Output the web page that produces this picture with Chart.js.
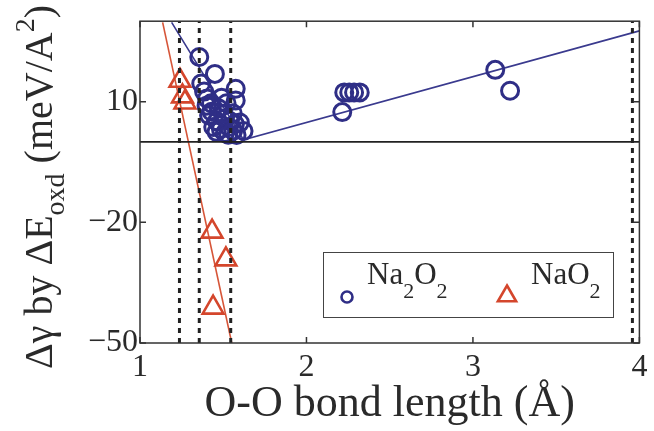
<!DOCTYPE html>
<html>
<head>
<meta charset="utf-8">
<script src="https://cdn.jsdelivr.net/npm/chart.js@4.4.1/dist/chart.umd.min.js"></script>
<style>
  html, body { margin: 0; padding: 0; background: #fff; }
  #wrap { width: 654px; height: 431px; }
</style>
</head>
<body>
<div id="wrap"><canvas id="chart" width="654" height="431"></canvas></div>
<script>
const X_TICKS = [1, 2, 3, 4];
const Y_TICKS = [-50, -20, 10];
const X_RANGE = [1, 4];
const Y_RANGE = [-50, 30];

// Na2O2 structures (circles)
const na2o2X = [1.356, 1.45, 1.368, 1.385, 1.575, 1.575, 1.403, 1.427, 1.474, 1.52, 1.415, 1.462, 1.51, 1.557,
    1.44, 1.486, 1.533, 1.57, 1.622, 1.51, 1.58, 1.43, 1.50, 1.54, 1.46, 1.53, 1.40, 1.49, 1.56, 1.60,
    2.215, 2.227, 2.257, 2.286, 2.32, 3.134, 3.223];
const na2o2Y = [21.1, 16.9, 14.5, 12.5, 13.2, 10.3, 10.8, 9.6, 8.3, 9.6, 6.6, 5.1, 5.9, 7.1,
    3.7, 3.2, 3.7, 4.4, 2.7, 2.2, 1.7, 7.5, 7.0, 5.2, 2.5, 1.8, 9.0, 11.0, 2.8, 4.8,
    7.4, 12.3, 12.3, 12.3, 12.3, 17.9, 12.7];

// NaO2 structures (triangles)
const nao2X = [1.24, 1.255, 1.27, 1.433, 1.516, 1.439];
const nao2Y = [15.2, 11.3, 9.8, -22.3, -29.2, -41.2];

// fitted lines
const na2o2FitX = [1.19, 1.622, 4.0];
const na2o2FitY = [29.7, 0.5, 27.6];
const nao2FitX = [1.136, 1.551];
const nao2FitY = [29.7, -50];

// reference bond lengths (dashed) and zero line
const dashedX = [1.237, 1.356, 1.545, 3.958];
const zeroY = 0;

const BLUE = '#2f2e86';
const RED = '#d4462c';
const FONT = '"Liberation Serif", "Times New Roman", serif';

const Y_TITLE = [
    { text: 'Δγ by ΔE', size: 40, dy: 0 },
    { text: 'oxd', size: 28, dy: 12 },
    { text: ' (meV/A', size: 40, dy: 0 },
    { text: '2', size: 28, dy: -18 },
    { text: ')', size: 40, dy: 0 },
];

const toPoints = (xs, ys) => xs.map((x, i) => ({ x, y: ys[i] }));

const datasets = [
    {
        label: 'Na2O2',
        data: toPoints(na2o2X, na2o2Y),
        borderColor: BLUE,
        backgroundColor: 'rgba(0,0,0,0)',
        pointStyle: 'circle',
        pointRadius: 8.5,
        pointBorderWidth: 3,
        order: 3,
    },
    {
        label: 'NaO2',
        data: toPoints(nao2X, nao2Y),
        borderColor: RED,
        backgroundColor: 'rgba(0,0,0,0)',
        pointStyle: 'triangle',
        pointRadius: 12,
        pointBorderWidth: 2.6,
        order: 3,
    },
    {
        type: 'line',
        data: toPoints(na2o2FitX, na2o2FitY),
        borderColor: '#3a3a8e',
        borderWidth: 1.6,
        pointRadius: 0,
        order: 4,
    },
    {
        type: 'line',
        data: toPoints(nao2FitX, nao2FitY),
        borderColor: '#d65538',
        borderWidth: 1.6,
        pointRadius: 0,
        order: 4,
    },
    {
        type: 'line',
        data: X_RANGE.map((x) => ({ x, y: zeroY })),
        borderColor: '#222',
        borderWidth: 1.6,
        pointRadius: 0,
        order: 2,
    },
];

dashedX.forEach((x) => {
    datasets.push({
        type: 'line',
        data: Y_RANGE.map((y) => ({ x, y })),
        borderColor: '#222',
        borderWidth: 3,
        borderDash: [5, 5],
        pointRadius: 0,
        order: 1,
    });
});

const framePlugin = {
    id: 'frame',
    afterDatasetsDraw(chart) {
        const { ctx, chartArea: a, scales: { x, y } } = chart;
        ctx.save();
        ctx.strokeStyle = '#333';
        ctx.lineWidth = 1.5;
        ctx.strokeRect(a.left, a.top, a.right - a.left, a.bottom - a.top);
        ctx.beginPath();
        X_TICKS.forEach((v) => {
            const px = x.getPixelForValue(v);
            ctx.moveTo(px, a.bottom); ctx.lineTo(px, a.bottom - 6);
            ctx.moveTo(px, a.top); ctx.lineTo(px, a.top + 6);
        });
        Y_TICKS.forEach((v) => {
            const py = y.getPixelForValue(v);
            ctx.moveTo(a.left, py); ctx.lineTo(a.left + 6, py);
            ctx.moveTo(a.right, py); ctx.lineTo(a.right - 6, py);
        });
        ctx.stroke();
        ctx.restore();
    },
};

function drawParts(ctx, parts, x, y) {
    let cx = x;
    parts.forEach((p) => {
        ctx.font = `${p.size}px ${FONT}`;
        ctx.fillText(p.text, cx, y + p.dy);
        cx += ctx.measureText(p.text).width;
    });
    return cx;
}

function partsWidth(ctx, parts) {
    return parts.reduce((w, p) => {
        ctx.font = `${p.size}px ${FONT}`;
        return w + ctx.measureText(p.text).width;
    }, 0);
}

const labelPlugin = {
    id: 'labels',
    afterDraw(chart) {
        const { ctx } = chart;
        ctx.save();
        ctx.fillStyle = '#2a2a2a';
        ctx.textBaseline = 'alphabetic';
        ctx.textAlign = 'left';

        // y axis title with sub/superscript
        ctx.save();
        ctx.translate(52, 187);
        ctx.rotate(-Math.PI / 2);
        const w = partsWidth(ctx, Y_TITLE);
        drawParts(ctx, Y_TITLE, -w / 2, 0);
        ctx.restore();

        // legend box
        const box = { x: 323, y: 252, w: 290, h: 65 };
        ctx.fillStyle = '#fff';
        ctx.fillRect(box.x, box.y, box.w, box.h);
        ctx.strokeStyle = '#444';
        ctx.lineWidth = 1;
        ctx.strokeRect(box.x + 0.5, box.y + 0.5, box.w, box.h);

        ctx.lineWidth = 2.6;
        ctx.strokeStyle = BLUE;
        ctx.beginPath();
        ctx.arc(347, 297, 5.5, 0, Math.PI * 2);
        ctx.stroke();

        ctx.strokeStyle = RED;
        ctx.beginPath();
        const tr = 10.5;
        const tx = 507, ty = 296;
        for (let i = 0; i < 3; i++) {
            const ang = -Math.PI / 2 + i * 2 * Math.PI / 3;
            const px = tx + Math.cos(ang) * tr, py = ty + Math.sin(ang) * tr;
            if (i === 0) ctx.moveTo(px, py); else ctx.lineTo(px, py);
        }
        ctx.closePath();
        ctx.stroke();

        ctx.fillStyle = '#2a2a2a';
        drawParts(ctx, [
            { text: 'Na', size: 31, dy: 0 }, { text: '2', size: 22, dy: 14 },
            { text: 'O', size: 31, dy: 0 }, { text: '2', size: 22, dy: 14 },
        ], 367, 284);
        drawParts(ctx, [
            { text: 'NaO', size: 31, dy: 0 }, { text: '2', size: 22, dy: 14 },
        ], 531, 284);
        ctx.restore();
    },
};

const minus = (v) => String(v).replace('-', '\u2212');

new Chart(document.getElementById('chart'), {
    type: 'scatter',
    data: { datasets },
    options: {
        responsive: false,
        animation: false,
        layout: { padding: { top: 18, right: 8, left: 0, bottom: 0 } },
        plugins: { legend: { display: false }, tooltip: { enabled: false } },
        scales: {
            x: {
                type: 'linear',
                min: X_RANGE[0],
                max: X_RANGE[1],
                grid: { display: false, drawTicks: false },
                border: { display: false },
                afterBuildTicks: (s) => { s.ticks = X_TICKS.map((value) => ({ value })); },
                afterFit: (s) => { s.height = 88; s.paddingRight = 0; s.paddingLeft = 0; },
                ticks: {
                    color: '#2a2a2a',
                    font: { family: FONT, size: 32 },
                    padding: 5,
                    maxRotation: 0,
                },
                title: {
                    display: true,
                    text: 'O-O bond length (Å)',
                    color: '#2a2a2a',
                    font: { family: FONT, size: 44 },
                    padding: { top: 0, bottom: 0 },
                },
            },
            y: {
                type: 'linear',
                min: Y_RANGE[0],
                max: Y_RANGE[1],
                grid: { display: false, drawTicks: false },
                border: { display: false },
                afterBuildTicks: (s) => { s.ticks = Y_TICKS.map((value) => ({ value })); },
                afterFit: (s) => { s.width = 140; },
                ticks: {
                    color: '#2a2a2a',
                    font: { family: FONT, size: 32 },
                    padding: 2,
                    callback: (v) => minus(v),
                },
            },
        },
    },
    plugins: [framePlugin, labelPlugin],
});
</script>
</body>
</html>
